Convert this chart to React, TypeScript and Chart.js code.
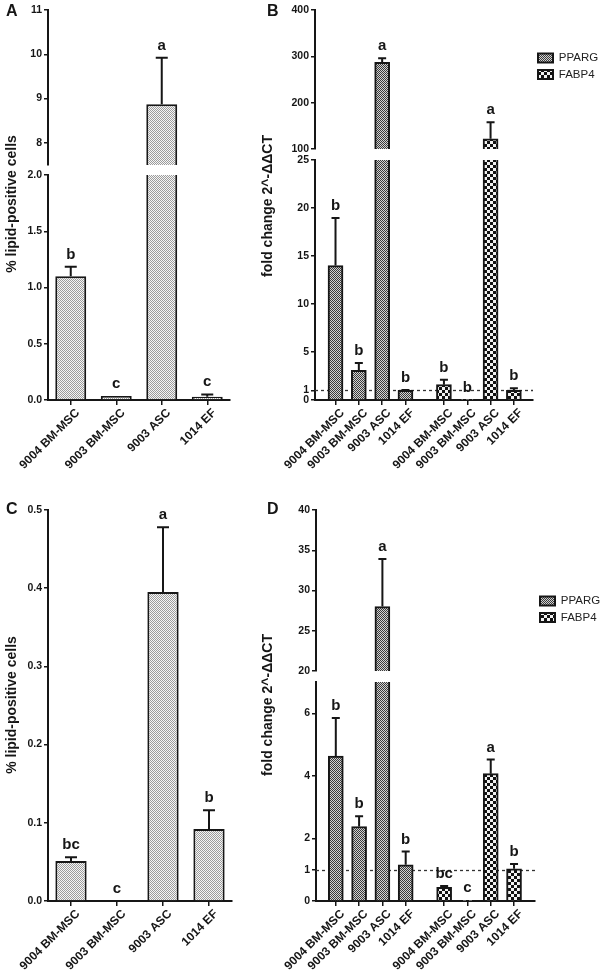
import React, { useEffect, useRef } from 'react';
import { Chart, registerables } from 'chart.js';

Chart.register(...registerables);

const FONT = "'Liberation Sans', Arial, Helvetica, sans-serif";
const INK = '#161616';
Chart.defaults.font.family = FONT;
Chart.defaults.color = INK;

// ---------------- data ----------------
const cellLines = ['9004 BM-MSC', '9003 BM-MSC', '9003 ASC', '1014 EF'];
const geneNames = ['PPARG', 'FABP4'];

// Panel A – % lipid-positive cells
const lipidA = [1.1, 0.035, 8.87, 0.03];
const lipidAErr = [0.085, 0, 1.05, 0.02];
const lipidALetters = ['b', 'c', 'a', 'c'];
const ticksALow = [0, 0.5, 1, 1.5, 2];
const ticksAHigh = [8, 9, 10, 11];

// Panel B – fold change
const ppargB = [14.0, 3.1, 287, 1.0];
const ppargBErr = [4.95, 0.75, 9, 0.05];
const fabp4B = [1.6, 0.05, 122, 1.0];
const fabp4BErr = [0.5, 0, 36, 0.22];
const lettersBPparg = ['b', 'b', 'a', 'b'];
const lettersBFabp4 = ['b', 'b', 'a', 'b'];
const ticksBLow = [0, 1, 5, 10, 15, 20, 25];
const ticksBHigh = [100, 200, 300, 400];

// Panel C – % lipid-positive cells
const lipidC = [0.051, 0, 0.395, 0.092];
const lipidCErr = [0.005, 0, 0.083, 0.024];
const lipidCLetters = ['bc', 'c', 'a', 'b'];
const ticksC = [0, 0.1, 0.2, 0.3, 0.4, 0.5];

// Panel D – fold change
const ppargD = [4.63, 2.38, 28.0, 1.16];
const ppargDErr = [1.22, 0.33, 5.9, 0.42];
const fabp4D = [0.44, 0.02, 4.07, 1.03];
const fabp4DErr = [0.04, 0, 0.45, 0.15];
const lettersDPparg = ['b', 'b', 'a', 'b'];
const lettersDFabp4 = ['bc', 'c', 'a', 'b'];
const ticksDLow = [0, 1, 2, 4, 6];
const ticksDHigh = [20, 25, 30, 35, 40];

// layout constants for the grouped (two-gene) panels
const GROUP_STEP = 1.65; // distance between last bar of group 1 and first of group 2
const group1Pos = cellLines.map((_, i) => i);
const group2Pos = cellLines.map((_, i) => 3 + GROUP_STEP + i);
const allPos = group1Pos.concat(group2Pos);
const allLabels = cellLines.concat(cellLines);

type PatternKind = 'light' | 'dither' | 'checker';

function makePattern(kind: PatternKind): any {
  const c = document.createElement('canvas');
  const ctx = c.getContext('2d')!;
  if (kind === 'checker') {
    c.width = 6;
    c.height = 6;
    ctx.fillStyle = '#f2f2f2';
    ctx.fillRect(0, 0, 6, 6);
    ctx.fillStyle = '#111';
    ctx.fillRect(0, 0, 3, 3);
    ctx.fillRect(3, 3, 3, 3);
  } else {
    c.width = 2;
    c.height = 2;
    const dark = kind === 'light' ? '#9c9c9c' : '#3a3a3a';
    const light = kind === 'light' ? '#f6f6f6' : '#d2d2d2';
    ctx.fillStyle = light;
    ctx.fillRect(0, 0, 2, 2);
    ctx.fillStyle = dark;
    ctx.fillRect(0, 0, 1, 1);
    ctx.fillRect(1, 1, 1, 1);
  }
  return ctx.createPattern(c, 'repeat') || '#bbb';
}

const yVal = (d: any) => (typeof d === 'number' ? d : d && d.y);

const annotPlugin: any = {
  id: 'annot',
  beforeDatasetsDraw(chart: any, _a: any, opts: any) {
    if (opts.refLine == null) return;
    const ys = chart.scales[opts.refAxis];
    const y = Math.round(ys.getPixelForValue(opts.refLine)) + 0.5;
    const { left, right } = chart.chartArea;
    const ctx = chart.ctx;
    ctx.save();
    ctx.setLineDash([3, 3]);
    ctx.lineWidth = 1.3;
    ctx.strokeStyle = '#333';
    ctx.beginPath();
    ctx.moveTo(left, y);
    ctx.lineTo(right, y);
    ctx.stroke();
    ctx.restore();
  },
  beforeDatasetDraw(chart: any, args: any) {
    const ys = args.meta.yScale;
    const a = chart.chartArea;
    const ctx = chart.ctx;
    ctx.save();
    ctx.beginPath();
    ctx.rect(a.left - 3, ys.top, a.right - a.left + 6, ys.bottom - ys.top);
    ctx.clip();
  },
  afterDatasetDraw(chart: any) {
    chart.ctx.restore();
  },
  afterDatasetsDraw(chart: any, _a: any, opts: any) {
    const ctx = chart.ctx;
    const cap = opts.capWidth || 10;
    chart.data.datasets.forEach((ds: any, di: number) => {
      const meta = chart.getDatasetMeta(di);
      const ys = meta.yScale;
      meta.data.forEach((bar: any, i: number) => {
        const v = yVal(ds.data[i]);
        const e = ds.errors ? ds.errors[i] : 0;
        const top = v + e;
        if (top < ys.min - 1e-9 || top > ys.max + 1e-9) return;
        const x = bar.x;
        const yTop = ys.getPixelForValue(top);
        const yV = ys.getPixelForValue(Math.max(v, ys.min));
        ctx.save();
        if (e > 0) {
          ctx.strokeStyle = INK;
          ctx.lineWidth = 2;
          ctx.beginPath();
          ctx.moveTo(x, yV);
          ctx.lineTo(x, yTop);
          ctx.moveTo(x - cap / 2, yTop);
          ctx.lineTo(x + cap / 2, yTop);
          ctx.stroke();
        }
        if (ds.letters && ds.letters[i]) {
          ctx.fillStyle = INK;
          ctx.font = `bold 15px ${FONT}`;
          ctx.textAlign = 'center';
          ctx.textBaseline = 'alphabetic';
          ctx.fillText(ds.letters[i], x, yTop - 8);
        }
        ctx.restore();
      });
    });
  },
};

function yScale(min: number, max: number, ticks: number[], decimals: number, width: number, stack?: { w: number; weight: number }) {
  const s: any = {
    type: 'linear',
    position: 'left',
    min,
    max,
    afterBuildTicks: (sc: any) => {
      sc.ticks = ticks.map((v) => ({ value: v }));
    },
    afterFit: (sc: any) => {
      sc.width = width;
    },
    grid: { display: true, drawOnChartArea: false, drawTicks: true, tickLength: 4, color: INK, lineWidth: 1.5 },
    border: { display: true, color: INK, width: 2 },
    ticks: {
      font: { family: FONT, size: 10.5, weight: 'bold' },
      color: INK,
      padding: 2,
      autoSkip: false,
      callback: (v: any) => Number(v).toFixed(decimals),
    },
  };
  if (stack) {
    s.stack = 'v';
    s.stackWeight = stack.w;
    s.weight = stack.weight;
  }
  return s;
}

function gapScale(w: number, width: number) {
  return {
    type: 'linear',
    position: 'left',
    stack: 'v',
    stackWeight: w,
    weight: 2,
    grid: { display: false },
    border: { display: false },
    ticks: { display: false },
    afterFit: (sc: any) => {
      sc.width = width;
    },
  };
}

const xTickFont = { family: FONT, size: 12, weight: 'bold' };

function xCategory(height: number) {
  return {
    type: 'category',
    offset: true,
    grid: { display: true, drawOnChartArea: false, offset: false, tickLength: 5, color: INK, lineWidth: 1.5 },
    border: { display: true, color: INK, width: 2 },
    ticks: { autoSkip: false, minRotation: 45, maxRotation: 45, font: xTickFont, color: INK, padding: 1, labelOffset: 7 },
    afterFit: (sc: any) => {
      sc.height = height;
      sc.paddingLeft = 0;
      sc.paddingRight = 0;
    },
  };
}

function xLinear(height: number, padL: number, padR: number) {
  return {
    type: 'linear',
    offset: false,
    min: -padL,
    max: allPos[allPos.length - 1] + padR,
    afterBuildTicks: (sc: any) => {
      sc.ticks = allPos.map((v) => ({ value: v }));
    },
    grid: { display: true, drawOnChartArea: false, offset: false, tickLength: 5, color: INK, lineWidth: 1.5 },
    border: { display: true, color: INK, width: 2 },
    ticks: {
      autoSkip: false,
      minRotation: 45,
      maxRotation: 45,
      font: xTickFont,
      color: INK,
      padding: 1,
      labelOffset: 7,
      callback: (_v: any, i: number) => allLabels[i],
    },
    afterFit: (sc: any) => {
      sc.height = height;
      sc.paddingLeft = 0;
      sc.paddingRight = 0;
    },
  };
}

const baseOptions = {
  responsive: false,
  animation: false,
  devicePixelRatio: 1,
  events: [],
};

function buildA() {
  const fill = makePattern('light');
  const bar = { backgroundColor: fill, borderColor: INK, borderWidth: 2, barPercentage: 0.68, categoryPercentage: 1, grouped: false, errors: lipidAErr, letters: lipidALetters };
  return {
    type: 'bar',
    data: {
      labels: cellLines,
      datasets: [
        { ...bar, label: 'lipid', data: lipidA, yAxisID: 'yLow' },
        { ...bar, label: 'lipid (upper)', data: lipidA, yAxisID: 'yHigh' },
      ],
    },
    options: {
      ...baseOptions,
      layout: { padding: { left: 0, top: 10, right: 32, bottom: 0 } },
      plugins: { legend: { display: false }, tooltip: { enabled: false }, annot: { capWidth: 12 } },
      scales: {
        x: xCategory(86),
        yLow: yScale(0, 2, ticksALow, 1, 48, { w: 225, weight: 1 }),
        yGap: gapScale(10, 48),
        yHigh: yScale(7.5, 11, ticksAHigh, 0, 48, { w: 155, weight: 3 }),
      },
    },
    plugins: [annotPlugin],
  };
}

function buildC() {
  const fill = makePattern('light');
  return {
    type: 'bar',
    data: {
      labels: cellLines,
      datasets: [
        { label: 'lipid', data: lipidC, yAxisID: 'y', backgroundColor: fill, borderColor: INK, borderWidth: 2, barPercentage: 0.68, categoryPercentage: 1, errors: lipidCErr, letters: lipidCLetters },
      ],
    },
    options: {
      ...baseOptions,
      layout: { padding: { left: 0, top: 24, right: 30, bottom: 0 } },
      plugins: { legend: { display: false }, tooltip: { enabled: false }, annot: { capWidth: 12 } },
      scales: {
        x: xCategory(71),
        y: yScale(0, 0.5, ticksC, 1, 48),
      },
    },
    plugins: [annotPlugin],
  };
}

function buildGenes(cfg: any) {
  const pFill = makePattern('dither');
  const fFill = makePattern('checker');
  const common = { borderColor: INK, borderWidth: 2, barThickness: 15, grouped: false };
  const pData = cfg.pparg.map((v: number, i: number) => ({ x: group1Pos[i], y: v }));
  const fData = cfg.fabp4.map((v: number, i: number) => ({ x: group2Pos[i], y: v }));
  const p = { ...common, label: geneNames[0], backgroundColor: pFill, data: pData, errors: cfg.ppargErr, letters: cfg.ppargLetters };
  const f = { ...common, label: geneNames[1], backgroundColor: fFill, data: fData, errors: cfg.fabp4Err, letters: cfg.fabp4Letters };
  return {
    type: 'bar',
    data: {
      datasets: [
        { ...p, yAxisID: 'yLow', inLegend: true },
        { ...f, yAxisID: 'yLow', inLegend: true },
        { ...p, yAxisID: 'yHigh', inLegend: false },
        { ...f, yAxisID: 'yHigh', inLegend: false },
      ],
    },
    options: {
      ...baseOptions,
      layout: { padding: { left: 0, top: cfg.top, right: 0, bottom: 0 } },
      plugins: {
        tooltip: { enabled: false },
        annot: { capWidth: 8, refLine: 1, refAxis: 'yLow' },
        legend: {
          display: true,
          position: 'right',
          align: 'start',
          fullSize: false,
          maxWidth: cfg.legendWidth,
          title: { display: true, text: '', padding: { top: cfg.legendOffset, bottom: 0 } },
          labels: {
            boxWidth: 15,
            boxHeight: 9,
            padding: 5,
            color: '#222',
            font: { family: FONT, size: 11.5 },
            filter: (item: any, data: any) => !!data.datasets[item.datasetIndex].inLegend,
          },
        },
      },
      scales: {
        x: xLinear(cfg.xHeight, cfg.padL, cfg.padR),
        yLow: yScale(0, cfg.lowMax, cfg.lowTicks, 0, cfg.axisWidth, { w: cfg.lowH, weight: 1 }),
        yGap: gapScale(cfg.gapH, cfg.axisWidth),
        yHigh: yScale(cfg.highMin, cfg.highMax, cfg.highTicks, 0, cfg.axisWidth, { w: cfg.highH, weight: 3 }),
      },
    },
    plugins: [annotPlugin],
  };
}

function buildB() {
  return buildGenes({
    pparg: ppargB, ppargErr: ppargBErr, ppargLetters: lettersBPparg,
    fabp4: fabp4B, fabp4Err: fabp4BErr, fabp4Letters: lettersBFabp4,
    lowMax: 25, lowTicks: ticksBLow, highMin: 100, highMax: 400, highTicks: ticksBHigh,
    lowH: 240, gapH: 11, highH: 139, axisWidth: 53, top: 10, xHeight: 86,
    padL: 0.88, padR: 0.82, legendWidth: 67, legendOffset: 22.8,
  });
}

function buildD() {
  return buildGenes({
    pparg: ppargD, ppargErr: ppargDErr, ppargLetters: lettersDPparg,
    fabp4: fabp4D, fabp4Err: fabp4DErr, fabp4Letters: lettersDFabp4,
    lowMax: 7, lowTicks: ticksDLow, highMin: 20, highMax: 40, highTicks: ticksDHigh,
    lowH: 219, gapH: 11, highH: 161, axisWidth: 54, top: 24, xHeight: 71,
    padL: 0.85, padR: 0.9, legendWidth: 65, legendOffset: 65.8,
  });
}

function ChartCanvas(props: { left: number; top: number; width: number; height: number; build: () => any }) {
  const ref = useRef<HTMLCanvasElement>(null);
  useEffect(() => {
    const chart = new Chart(ref.current as HTMLCanvasElement, props.build());
    return () => chart.destroy();
  }, []);
  return (
    <canvas
      ref={ref}
      width={props.width}
      height={props.height}
      style={{ position: 'absolute', left: props.left, top: props.top, width: props.width, height: props.height }}
    />
  );
}

function PanelLetter(props: { x: number; y: number; text: string }) {
  return (
    <div style={{ position: 'absolute', left: props.x, top: props.y, font: `bold 16px ${FONT}`, lineHeight: '16px', color: INK }}>
      {props.text}
    </div>
  );
}

function AxisTitle(props: { cx: number; cy: number; text: string }) {
  return (
    <div
      style={{
        position: 'absolute',
        left: props.cx,
        top: props.cy,
        transform: 'translate(-50%, -50%) rotate(-90deg)',
        whiteSpace: 'nowrap',
        font: `bold 14px ${FONT}`,
        lineHeight: '15px',
        color: INK,
      }}
    >
      {props.text}
    </div>
  );
}

export default function App() {
  return (
    <div style={{ position: 'absolute', left: 0, top: 0, width: 600, height: 972, background: '#fff', overflow: 'hidden' }}>
      <ChartCanvas left={0} top={0} width={262} height={486} build={buildA} />
      <ChartCanvas left={262} top={0} width={338} height={486} build={buildB} />
      <ChartCanvas left={0} top={486} width={262} height={486} build={buildC} />
      <ChartCanvas left={262} top={486} width={338} height={486} build={buildD} />
      <PanelLetter x={6} y={3} text="A" />
      <PanelLetter x={267} y={3} text="B" />
      <PanelLetter x={6} y={501} text="C" />
      <PanelLetter x={267} y={501} text="D" />
      <AxisTitle cx={11} cy={204} text="% lipid-positive cells" />
      <AxisTitle cx={267} cy={206} text="fold change 2^-ΔΔCT" />
      <AxisTitle cx={11} cy={705} text="% lipid-positive cells" />
      <AxisTitle cx={267} cy={705} text="fold change 2^-ΔΔCT" />
    </div>
  );
}
